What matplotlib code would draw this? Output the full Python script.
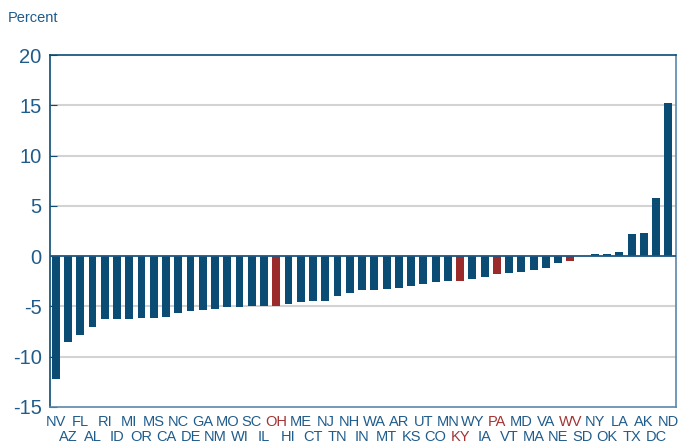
import matplotlib.pyplot as plt

# Données : variation en pourcentage par État
states = ["NV", "AZ", "FL", "AL", "RI", "ID", "MI", "OR", "MS", "CA",
          "NC", "DE", "GA", "NM", "MO", "WI", "SC", "IL", "OH", "HI",
          "ME", "CT", "NJ", "TN", "NH", "IN", "WA", "MT", "AR", "KS",
          "UT", "CO", "MN", "KY", "WY", "IA", "PA", "VT", "MD", "MA",
          "VA", "NE", "WV", "SD", "NY", "OK", "LA", "TX", "AK", "DC", "ND"]
values = [-12.2, -8.55, -7.88, -7.05, -6.29, -6.29, -6.22, -6.12, -6.12, -6.06,
          -5.70, -5.43, -5.36, -5.26, -5.10, -5.07, -5.00, -4.93, -4.97, -4.77,
          -4.57, -4.50, -4.44, -4.00, -3.64, -3.35, -3.35, -3.28, -3.15, -2.95,
          -2.78, -2.58, -2.49, -2.52, -2.32, -2.12, -1.82, -1.69, -1.59, -1.36,
          -1.19, -0.65, -0.46, 0.02, 0.2, 0.22, 0.4, 2.2, 2.27, 5.8, 15.25]
highlight = ["OH", "KY", "PA", "WV"]
yticks = [20, 15, 10, 5, 0, -5, -10, -15]

blue = "#0a4c74"
red = "#9b2b2b"
txt_blue = "#1f5c8c"
txt_red = "#a33333"

fig = plt.figure(figsize=(6.84, 4.43), dpi=100)
ax = fig.add_axes([0.0731, 0.0813, 0.9152, 0.7945])

x = list(range(len(states)))
colors = [red if s in highlight else blue for s in states]
ax.bar(x, values, width=0.65, color=colors, zorder=3)

ax.set_xlim(-0.47, 50.63)
ax.set_ylim(-15, 20)
ax.set_yticks(yticks)
ax.set_yticklabels([str(v) for v in yticks], fontsize=14.5, color=txt_blue,
                   family="Liberation Sans")
ax.tick_params(axis="y", direction="in", length=5, color=blue, pad=6)
ax.set_xticks([])

# Grille horizontale
for v in [15, 10, 5, -5, -10]:
    ax.axhline(v, color="#d3d3d3", lw=1.5, zorder=1)
ax.axhline(0, color="#1e5682", lw=1.3, zorder=4)

ax.spines["left"].set_color(blue)
ax.spines["top"].set_color(blue)
ax.spines["right"].set_color("#5a88ab")
ax.spines["bottom"].set_color("#5a88ab")
for sp in ax.spines.values():
    sp.set_linewidth(1.2)

# Étiquettes des États sur deux rangées alternées
for i, s in enumerate(states):
    c = txt_red if s in highlight else txt_blue
    yy = -16.45 if i % 2 == 0 else -18.0
    ax.text(i, yy, s, ha="center", va="center", fontsize=10.5, color=c,
            family="Liberation Sans", clip_on=False)

fig.text(8 / 684, 1 - 18 / 443, "Percent", fontsize=10.5, color=txt_blue,
         family="Liberation Sans", va="center", ha="left")

fig.savefig("out.png", dpi=100)
